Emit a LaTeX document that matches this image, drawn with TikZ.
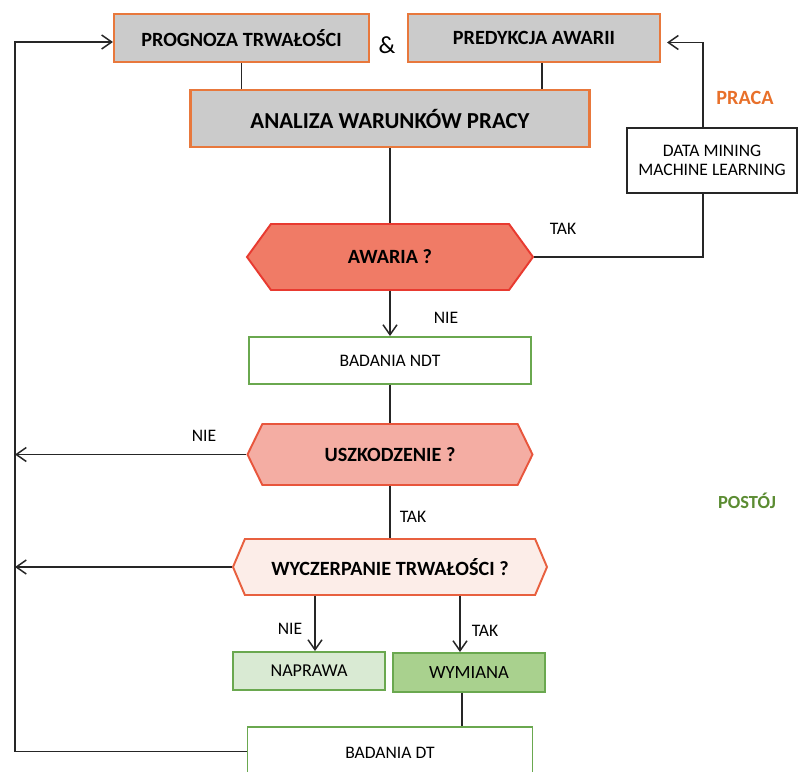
\documentclass[tikz,border=0pt]{standalone}
\usepackage{fontspec}
\setmainfont{Carlito}
\usetikzlibrary{shapes.symbols,arrows.meta}

\definecolor{boxgray}{HTML}{CBCBCB}
\definecolor{frameorange}{HTML}{E8783C}
\definecolor{awariafill}{HTML}{F07B66}
\definecolor{awariadraw}{HTML}{E83A30}
\definecolor{uszfill}{HTML}{F4ADA3}
\definecolor{uszdraw}{HTML}{E8553C}
\definecolor{wycfill}{HTML}{FCEDE8}
\definecolor{wycdraw}{HTML}{E8603F}
\definecolor{napfill}{HTML}{D9EAD3}
\definecolor{wymfill}{HTML}{A9D18E}
\definecolor{framegreen}{HTML}{6AA84F}
\definecolor{pracacol}{HTML}{E8702A}
\definecolor{postojcol}{HTML}{5B8C32}

\def\fs#1{\fontsize{#1}{#1}\selectfont}

\tikzset{
  topbox/.style={draw=frameorange,fill=boxgray,line width=1.2pt,inner sep=0pt,
    font=\bfseries\fs{11.5}},
  hexa/.style={signal,signal to=west and east,line width=1.1pt,inner sep=0pt,
    font=\bfseries\fs{11.5}},
  greenbox/.style={draw=framegreen,line width=1.1pt,inner sep=0pt,font=\fs{10}},
  lbl/.style={inner sep=0pt,font=\fs{10}},
  conn/.style={line width=0.85pt,draw=black!85}
}

\begin{document}
\begin{tikzpicture}[x=0.2mm,y=-0.2mm,>={Straight Barb[length=2mm,width=2.8mm]}]
\useasboundingbox (0,0) rectangle (799,772);

% gorny rzad
\node[topbox,minimum width=51mm,minimum height=9.6mm] (prog) at (241.5,38) {PROGNOZA TRWAŁOŚCI};
\node[topbox,minimum width=50.4mm,minimum height=9.6mm] (pred) at (534,38) {PREDYKCJA AWARII};
\node[inner sep=0pt,font=\fs{14}] (amp) at (387,45) {\&};
\node[topbox,minimum width=79.8mm,minimum height=11.4mm,font=\bfseries\fs{13}] (anal) at (390,118.5) {ANALIZA WARUNKÓW PRACY};

% decyzje
\node[hexa,fill=awariafill,draw=awariadraw,minimum width=57.2mm,minimum height=13.2mm,
  signal pointer angle=108] (awaria) at (390,257) {AWARIA ?};
\node[greenbox,minimum width=56.4mm,minimum height=9.4mm] (ndt) at (390,360.5) {BADANIA NDT};
\node[draw=black!85,line width=1pt,inner sep=0pt,minimum width=34mm,minimum height=13mm,
  align=center,font=\fs{10}] (dm) at (712,160.5) {DATA MINING\\[1pt]MACHINE LEARNING};
\node[hexa,fill=uszfill,draw=uszdraw,minimum width=57mm,minimum height=12.2mm,
  signal pointer angle=128] (usz) at (390,454.5) {USZKODZENIE ?};
\node[hexa,fill=wycfill,draw=wycdraw,minimum width=62.8mm,minimum height=11.2mm,
  signal pointer angle=134] (wyc) at (390,567) {WYCZERPANIE TRWAŁOŚCI ?};

% dol
\node[greenbox,fill=napfill,minimum width=30.4mm,minimum height=7.6mm,font=\fs{10.3}] (nap) at (309,671) {NAPRAWA};
\node[greenbox,fill=wymfill,minimum width=30.4mm,minimum height=7.8mm,font=\fs{10.6}] (wym) at (469,672.5) {WYMIANA};
\node[greenbox,minimum width=57mm,minimum height=10.4mm] (dt) at (390,753) {BADANIA DT};

% etykiety
\node[lbl] (nie1) at (446,318) {NIE};
\node[lbl] (tak1) at (563,229) {TAK};
\node[lbl] (nie2) at (204,436) {NIE};
\node[lbl] (tak2) at (413,517) {TAK};
\node[lbl] (nie3) at (290,629) {NIE};
\node[lbl] (tak3) at (485,631) {TAK};
\node[inner sep=0pt,font=\bfseries\fs{11.5},text=pracacol] (praca) at (745,98) {PRACA};
\node[inner sep=0pt,font=\bfseries\fs{10.5},text=postojcol] (postoj) at (747,501) {POSTÓJ};

\coordinate (rail) at (15,0);
\coordinate (progin) at ([yshift=-0.8mm]prog.west);
\coordinate (predin) at ([yshift=-0.9mm]pred.east);

% polaczenia
\draw[conn] (prog.south) -- (prog.south |- anal.north);
\draw[conn] ([xshift=1.6mm]pred.south) -- ([xshift=1.6mm]pred.south |- anal.north);
\draw[conn] (anal.south) -- (awaria.north);
\draw[conn,->] (awaria.south) -- (ndt.north);
\draw[conn] (awaria.east) -| ([xshift=-1.8mm]dm.south);
\draw[conn,->,shorten >=1.2mm] ([xshift=-1.8mm]dm.north) |- (predin);
\draw[conn] (ndt.south) -- (usz.north);
\draw[conn,->] (usz.west) -- (usz.west -| rail);
\draw[conn] (usz.south) -- (wyc.north);
\draw[conn,->] (wyc.west) -- (wyc.west -| rail);
\draw[conn,->] ([xshift=-15mm]wyc.south) -- ([xshift=-15mm]wyc.south |- nap.north);
\draw[conn,->] ([xshift=14mm]wyc.south) -- ([xshift=14mm]wyc.south |- wym.north);
\draw[conn] ([xshift=-1.4mm]wym.south) -- ([xshift=-1.4mm]wym.south |- dt.north);
\draw[conn,->] ([yshift=0.3mm]dt.west) -- ([yshift=0.3mm]dt.west -| rail)
  -- (rail |- progin) -- (progin);

\end{tikzpicture}
\end{document}
